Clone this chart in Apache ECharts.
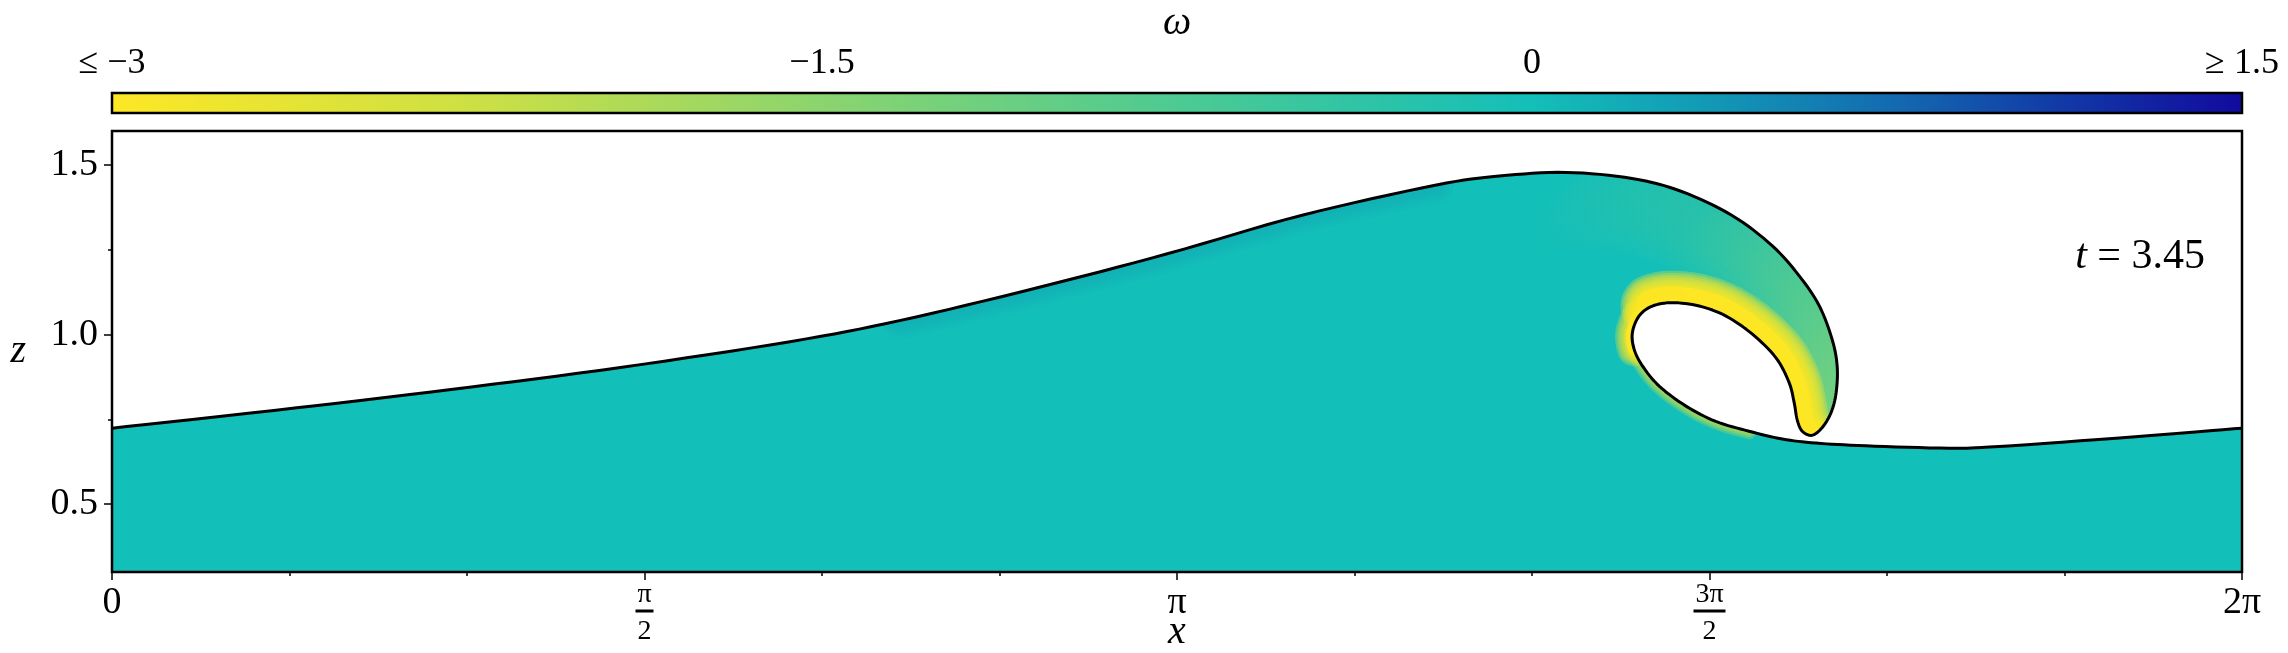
<!DOCTYPE html>
<html>
<head>
<meta charset="utf-8">
<title>wave vorticity</title>
<script src="https://cdn.jsdelivr.net/npm/echarts@6.0.0/dist/echarts.min.js"></script>
<style>
  html, body { margin: 0; padding: 0; background: #fff; }
  #main { width: 2288px; height: 653px; }
</style>
</head>
<body>
<div id="main"></div>
<script>
var TWO_PI = 2 * Math.PI;
var SERIF = '"Liberation Serif", "DejaVu Serif", serif';

// free surface, in order along the curve (x, z)
var surfX = [0, 0.545, 1.0, 1.5, 2.0, 2.323, 2.718, 3.113, 3.508, 3.903,
    4.092, 4.289, 4.484, 4.632, 4.779, 4.897, 4.977, 5.036, 5.074, 5.089,
    5.086, 5.071, 5.045, 5.015, 4.986, 4.971, 4.962, 4.947, 4.908, 4.839,
    4.760, 4.682, 4.603, 4.544, 4.505, 4.485, 4.490, 4.515, 4.564, 4.643,
    4.731, 4.829, 4.927, 5.026, 5.173, 5.419, 5.567, 5.959, 6.283];
var surfZ = [0.724, 0.784, 0.838, 0.903, 0.979, 1.041, 1.135, 1.238, 1.351, 1.440,
    1.467, 1.478, 1.460, 1.421, 1.351, 1.262, 1.173, 1.085, 0.986, 0.907,
    0.829, 0.770, 0.726, 0.703, 0.715, 0.749, 0.800, 0.859, 0.932, 1.001,
    1.055, 1.084, 1.094, 1.084, 1.055, 1.006, 0.957, 0.907, 0.848, 0.789,
    0.744, 0.715, 0.692, 0.680, 0.672, 0.665, 0.670, 0.698, 0.724];

// vorticity levels seen in the field
var sheetOmega = -3;          // shear layer under the jet
var jetOmega = [-0.3, -1.4];  // jet, crest -> tip
var slopeOmega = 0.3;         // thin layer under the front slope

// axes
var xTickVals = [0, Math.PI / 2, Math.PI, 3 * Math.PI / 2, TWO_PI];
var xTickLabels = ['0', 'π/2', 'π', '3π/2', '2π'];
var xMinorVals = [1, 2, 4, 5, 7, 8, 10, 11].map(function (k) { return k * Math.PI / 6; });
var zTickVals = [0.5, 1.0, 1.5];
var zMinorVals = [0.75, 1.25];

// colour bar
var cbarTicks = [-3, -1.5, 0, 1.5];
var cbarLabels = ['≤ −3', '−1.5', '0', '≥ 1.5'];
var cmapVals = [-3, -2.25, -1.5, -0.75, 0, 0.375, 0.75, 1.125, 1.5];
var cmapColors = ['#fde725', '#cde043', '#8bd46f', '#4dca92', '#13bfb9', '#1299b5', '#146cb0', '#1238a6', '#110b9e'];

function hex(h) {
    return [parseInt(h.slice(1, 3), 16), parseInt(h.slice(3, 5), 16), parseInt(h.slice(5, 7), 16)];
}
function cmap(v, a) {
    if (a === undefined) a = 1;
    var n = cmapVals.length;
    v = Math.max(cmapVals[0], Math.min(cmapVals[n - 1], v));
    var i = 0;
    while (i < n - 2 && v > cmapVals[i + 1]) i++;
    var t = (v - cmapVals[i]) / (cmapVals[i + 1] - cmapVals[i]);
    var c0 = hex(cmapColors[i]), c1 = hex(cmapColors[i + 1]);
    var c = c0.map(function (c, k) { return Math.round(c + (c1[k] - c) * t); });
    return 'rgba(' + c[0] + ',' + c[1] + ',' + c[2] + ',' + a + ')';
}

// catmull-rom through the pixel points, only for drawing
var N = 8;
function densify(p, n) {
    var out = [];
    for (var i = 0; i < p.length - 1; i++) {
        var p0 = p[Math.max(i - 1, 0)], p1 = p[i], p2 = p[i + 1], p3 = p[Math.min(i + 2, p.length - 1)];
        for (var k = 0; k < n; k++) {
            var t = k / n, t2 = t * t, t3 = t2 * t;
            out.push([0, 1].map(function (j) {
                return 0.5 * (2 * p1[j] + (-p0[j] + p2[j]) * t + (2 * p0[j] - 5 * p1[j] + 4 * p2[j] - p3[j]) * t2 + (-p0[j] + 3 * p1[j] - 3 * p2[j] + p3[j]) * t3);
            }));
        }
    }
    out.push(p[p.length - 1]);
    return out;
}

function poly(pts, fill) {
    return {type: 'polygon', shape: {points: pts}, style: {fill: fill, stroke: null}};
}
function line(pts, color, w, op) {
    return {type: 'polyline', shape: {points: pts},
        style: {fill: 'none', stroke: color, lineWidth: w, lineCap: 'round', lineJoin: 'round', opacity: op === undefined ? 1 : op}};
}
// stacked strokes -> soft band around the curve
function soft(pts, color, wMax, wMin, steps, op) {
    var out = [];
    for (var k = 0; k < steps; k++) {
        out.push(line(pts, color, wMax - (wMax - wMin) * k / (steps - 1), op));
    }
    return out;
}

function renderWave(params, api) {
    var p = surfX.map(function (x, i) { return api.coord([x, surfZ[i]]); });
    var d = densify(p, N);
    function seg(a, b) { return d.slice(a * N, b * N + 1); }
    var last = surfZ.length - 1;
    var e0 = api.coord([-0.1, surfZ[0]]), e1 = api.coord([TWO_PI + 0.1, surfZ[last]]);
    var bl = api.coord([-0.1, 0.1]), br = api.coord([TWO_PI + 0.1, 0.1]);
    var tl = api.coord([-0.1, 1.8]), tr = api.coord([TWO_PI + 0.1, 1.8]);
    var kids = [];

    // water
    kids.push(poly([bl, e0].concat(d, [e1, br]), cmap(0)));
    // faint layer under the front slope
    kids = kids.concat(soft(seg(5, 9), cmap(slopeOmega), 36, 10, 5, 0.11));
    // jet
    var g0 = p[11], g1 = p[21];
    var grad = {type: 'linear', global: true, x: g0[0], y: g0[1], x2: g1[0], y2: g1[1],
        colorStops: [{offset: 0, color: cmap(jetOmega[0], 0)}, {offset: 0.35, color: cmap(jetOmega[0])}, {offset: 1, color: cmap(jetOmega[1])}]};
    kids = kids.concat(soft(seg(11, 22), grad, 150, 50, 8, 0.22));
    // shear layer under the jet and round the top of the cavity
    kids = kids.concat(soft(seg(24, 33), cmap(sheetOmega), 64, 32, 8, 0.3));
    kids.push(line(seg(24, 33), cmap(sheetOmega), 32));
    kids = kids.concat(soft(seg(32, 36), cmap(sheetOmega), 34, 12, 6, 0.28));
    kids.push(line(seg(32, 36), cmap(sheetOmega), 12));
    kids = kids.concat(soft(seg(23, 26), cmap(sheetOmega), 36, 18, 5, 0.3));
    kids.push(line(seg(23, 26), cmap(sheetOmega), 18));
    // water under the trough stays calm
    var c0 = api.coord([surfX[40], 0.1]);
    kids.push(poly(d.slice(40 * N).concat([e1, br, c0]), cmap(0)));
    // thin layer on the cavity floor
    kids = kids.concat(soft(seg(35, 41), cmap(sheetOmega), 16, 4, 4, 0.22));
    // air above the surface and inside the cavity
    kids.push(poly([tl, e0].concat(d, [e1, tr]), '#fff'));
    // surface
    kids.push(line(d, '#000', 3));
    return {type: 'group', children: kids};
}

function renderBar(params, api) {
    var lo = cmapVals[0], hi = cmapVals[cmapVals.length - 1];
    var a = api.coord([lo, 1]), b = api.coord([hi, 0]);
    return {
        type: 'rect',
        shape: {x: a[0], y: a[1], width: b[0] - a[0], height: b[1] - a[1]},
        style: {fill: {type: 'linear', x: 0, y: 0, x2: 1, y2: 0,
            colorStops: cmapVals.map(function (v, i) { return {offset: (v - lo) / (hi - lo), color: cmapColors[i]}; })}}
    };
}

function nearest(arr, v) {
    var best = 0;
    arr.forEach(function (a, i) { if (Math.abs(a - v) < Math.abs(arr[best] - v)) best = i; });
    return best;
}
function xLabel(v) {
    var s = xTickLabels[nearest(xTickVals, v)];
    var parts = s.split('/');
    if (parts.length === 2) {
        return '{n|' + parts[0] + '}\n{' + (parts[0].length > 1 ? 'bw' : 'b') + '| }\n{d|' + parts[1] + '}';
    }
    return s;
}

var tickStyle = {color: '#000', width: 1.5};
var labelBase = {color: '#000', fontFamily: SERIF, fontSize: 38};

var myChart = echarts.init(document.getElementById('main'));
var option = {
    animation: false,
    backgroundColor: '#fff',
    title: {
        text: '{i|t} = 3.45',
        right: 78,
        top: 231,
        textStyle: {
            fontFamily: SERIF, fontSize: 42, fontWeight: 'normal', color: '#000',
            rich: {i: {fontFamily: SERIF, fontSize: 42, fontStyle: 'italic', color: '#000'}}
        }
    },
    grid: [
        {left: 112, top: 131, width: 2130, height: 441, show: true, z: 10, outerBoundsMode: 'none',
            backgroundColor: 'transparent', borderColor: '#000', borderWidth: 2.5},
        {left: 112, top: 93, width: 2130, height: 20, show: true, z: 10, outerBoundsMode: 'none',
            backgroundColor: 'transparent', borderColor: '#000', borderWidth: 2.5}
    ],
    xAxis: [
        {
            gridIndex: 0, type: 'value', min: 0, max: TWO_PI, position: 'bottom',
            axisLine: {show: false}, splitLine: {show: false},
            axisTick: {customValues: xTickVals, length: 8, lineStyle: tickStyle},
            axisLabel: Object.assign({}, labelBase, {
                customValues: xTickVals, margin: 12, formatter: xLabel,
                rich: {
                    n: {fontFamily: SERIF, fontSize: 28, lineHeight: 22, color: '#000'},
                    d: {fontFamily: SERIF, fontSize: 28, lineHeight: 32, color: '#000'},
                    b: {width: 18, height: 3, lineHeight: 10, fontSize: 2, backgroundColor: '#000'},
                    bw: {width: 32, height: 3, lineHeight: 10, fontSize: 2, backgroundColor: '#000'}
                }
            }),
            name: 'x', nameLocation: 'middle', nameGap: 40, nameMoveOverlap: false,
            nameTextStyle: {fontFamily: SERIF, fontSize: 40, fontStyle: 'italic', color: '#000'}
        },
        {
            gridIndex: 0, type: 'value', min: 0, max: TWO_PI, position: 'bottom',
            axisLine: {show: false}, splitLine: {show: false}, axisLabel: {show: false},
            axisTick: {customValues: xMinorVals, length: 4, lineStyle: tickStyle}
        },
        {
            gridIndex: 1, type: 'value', min: cbarTicks[0], max: cbarTicks[cbarTicks.length - 1], position: 'top',
            axisLine: {show: false}, splitLine: {show: false},
            axisTick: {customValues: cbarTicks, length: 7, lineStyle: tickStyle},
            axisLabel: Object.assign({}, labelBase, {
                customValues: cbarTicks, margin: 11, fontSize: 36,
                formatter: function (v) { return cbarLabels[nearest(cbarTicks, v)]; }
            }),
            name: 'ω', nameLocation: 'middle', nameGap: 50, nameMoveOverlap: false,
            nameTextStyle: {fontFamily: SERIF, fontSize: 40, fontStyle: 'italic', color: '#000'}
        }
    ],
    yAxis: [
        {
            gridIndex: 0, type: 'value', min: 0.3, max: 1.6, position: 'left',
            axisLine: {show: false}, splitLine: {show: false},
            axisTick: {customValues: zTickVals, length: 8, lineStyle: tickStyle},
            axisLabel: Object.assign({}, labelBase, {
                customValues: zTickVals, margin: 14,
                formatter: function (v) { return v.toFixed(1); }
            }),
            name: 'z', nameLocation: 'middle', nameRotate: 0, nameGap: 86, nameMoveOverlap: false,
            nameTextStyle: {fontFamily: SERIF, fontSize: 40, fontStyle: 'italic', color: '#000'}
        },
        {
            gridIndex: 0, type: 'value', min: 0.3, max: 1.6, position: 'left',
            axisLine: {show: false}, splitLine: {show: false}, axisLabel: {show: false},
            axisTick: {customValues: zMinorVals, length: 4, lineStyle: tickStyle}
        },
        {gridIndex: 1, type: 'value', min: 0, max: 1, show: false}
    ],
    series: [
        {type: 'custom', name: 'surface', xAxisIndex: 0, yAxisIndex: 0, clip: true, silent: true,
            data: [0], renderItem: renderWave},
        {type: 'custom', name: 'colorbar', xAxisIndex: 2, yAxisIndex: 2, clip: false, silent: true,
            data: [0], renderItem: renderBar}
    ]
};
myChart.setOption(option);
</script>
</body>
</html>
